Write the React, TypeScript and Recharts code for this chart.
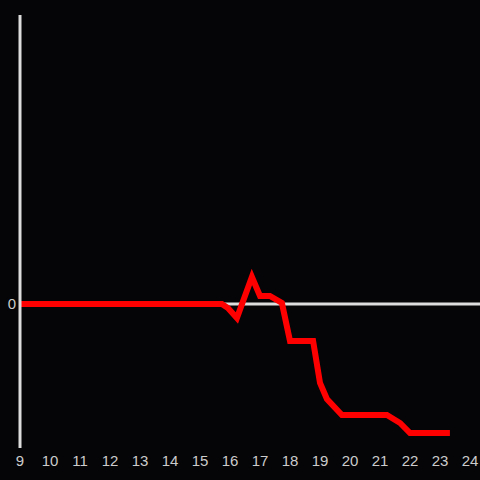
import { LineChart, Line, XAxis, YAxis, ReferenceLine } from 'recharts';

const hours = [9, 15.73, 15.93, 16.23, 16.73, 17.0, 17.33, 17.73, 18.0, 18.77, 19.0, 19.23, 19.73, 21.23, 21.67, 22.0, 23.33];
const values = [0, 0, -0.4, -1.4, 2.7, 0.8, 0.8, 0.1, -3.7, -3.7, -7.9, -9.5, -11.1, -11.1, -11.9, -12.9, -12.9];
const xTicks = [9, 10, 11, 12, 13, 14, 15, 16, 17, 18, 19, 20, 21, 22, 23, 24];
const yTicks = [0];

const data = hours.map((h, i) => ({ hour: h, value: values[i] }));

export default function App() {
    return (
        <div style={{ position: 'absolute', left: 0, top: 0, width: 480, height: 480, background: '#050407' }}>
            <LineChart
                width={480}
                height={480}
                data={data}
                margin={{ top: 15, right: 0, bottom: 2, left: 0 }}
                style={{ fontFamily: '"Liberation Sans", Arial, sans-serif' }}
            >
                <XAxis
                    dataKey="hour"
                    type="number"
                    domain={[9, 24.333]}
                    ticks={xTicks}
                    allowDataOverflow
                    axisLine={false}
                    tickLine={false}
                    tickSize={5}
                    tick={{ fill: '#cccccc', fontSize: 15 }}
                    height={30}
                />
                <YAxis
                    type="number"
                    domain={[-14.4, 28.9]}
                    ticks={yTicks}
                    allowDataOverflow
                    width={20}
                    tickLine={false}
                    tickSize={2}
                    tickMargin={2}
                    axisLine={{ stroke: '#dddddd', strokeWidth: 3 }}
                    tick={{ fill: '#cccccc', fontSize: 15 }}
                />
                <ReferenceLine y={0} stroke="#dddddd" strokeWidth={3} />
                <Line
                    type="linear"
                    dataKey="value"
                    stroke="#ff0000"
                    strokeWidth={6}
                    dot={false}
                    isAnimationActive={false}
                />
            </LineChart>
        </div>
    );
}
